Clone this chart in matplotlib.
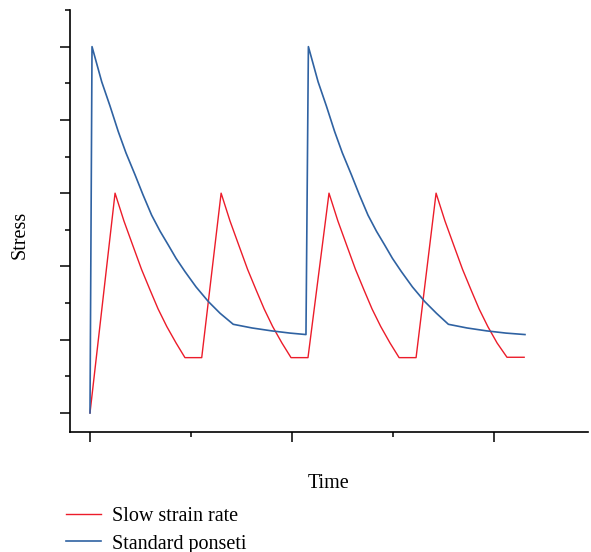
import matplotlib
matplotlib.use("Agg")
import matplotlib.pyplot as plt
from matplotlib.ticker import MultipleLocator, NullFormatter

# ── data (time, stress in arbitrary units) ──
slow_t = [0.000,
          0.124, 0.168, 0.214, 0.255, 0.297, 0.337, 0.380, 0.426, 0.470, 0.553,
          0.649, 0.693, 0.739, 0.780, 0.822, 0.862, 0.904, 0.950, 0.995, 1.079,
          1.183, 1.227, 1.273, 1.314, 1.356, 1.396, 1.439, 1.485, 1.530, 1.614,
          1.713, 1.757, 1.803, 1.844, 1.886, 1.926, 1.969, 2.015, 2.064, 2.149]
slow_s = [0.00,
          3.00, 2.62, 2.27, 1.96, 1.68, 1.42, 1.18, 0.955, 0.755, 0.755,
          3.00, 2.62, 2.27, 1.96, 1.68, 1.42, 1.18, 0.955, 0.755, 0.755,
          3.00, 2.62, 2.27, 1.96, 1.68, 1.42, 1.18, 0.955, 0.755, 0.755,
          3.00, 2.62, 2.27, 1.96, 1.68, 1.42, 1.18, 0.955, 0.760, 0.760]

std_t = [0.000,
         0.010, 0.030, 0.058, 0.099, 0.140, 0.178, 0.223, 0.262, 0.305, 0.347,
         0.388, 0.426, 0.470, 0.525, 0.586, 0.644, 0.709,
         0.802, 0.900, 0.990, 1.069,
         1.081, 1.101, 1.129, 1.170, 1.211, 1.249, 1.294, 1.333, 1.376, 1.418,
         1.459, 1.497, 1.541, 1.596, 1.657, 1.715, 1.774,
         1.866, 1.964, 2.059, 2.153]
std_s = [0.00,
         5.00, 4.80, 4.52, 4.19, 3.84, 3.55, 3.25, 2.98, 2.70, 2.48,
         2.29, 2.11, 1.93, 1.72, 1.52, 1.36, 1.21,
         1.16, 1.12, 1.09, 1.07,
         5.00, 4.80, 4.52, 4.19, 3.84, 3.55, 3.25, 2.98, 2.70, 2.48,
         2.29, 2.11, 1.93, 1.72, 1.52, 1.36, 1.21,
         1.16, 1.12, 1.09, 1.07]

labels = ["Slow strain rate", "Standard ponseti"]
RED  = "#ec1c2a"
BLUE = "#2f62a2"

plt.rcParams["font.family"] = ["Liberation Serif", "DejaVu Serif"]

fig = plt.figure(figsize=(5.91, 5.52), dpi=100)
ax  = fig.add_axes([70 / 591, 120 / 552, 518 / 591, 422 / 552])

ax.plot(slow_t, slow_s, color=RED,  lw=1.0, label=labels[0])
ax.plot(std_t,  std_s,  color=BLUE, lw=1.2, label=labels[1])

ax.set_xlim(-0.099, 2.465)
ax.set_ylim(-0.26, 5.5)

# ── axes styling: left/bottom spines only, no tick labels ──
for side in ("top", "right"):
    ax.spines[side].set_visible(False)
for side in ("left", "bottom"):
    ax.spines[side].set_linewidth(1.2)

ax.xaxis.set_major_locator(MultipleLocator(1))
ax.xaxis.set_minor_locator(MultipleLocator(0.5))
ax.yaxis.set_major_locator(MultipleLocator(1))
ax.yaxis.set_minor_locator(MultipleLocator(0.5))
ax.xaxis.set_major_formatter(NullFormatter())
ax.yaxis.set_major_formatter(NullFormatter())
ax.tick_params(which="major", length=7, width=1.1, direction="out")
ax.tick_params(which="minor", length=3.5, width=1.1, direction="out")

ax.set_xlabel("Time", fontsize=14.5, va="top")
ax.xaxis.set_label_coords(0.5, -0.0995)
ax.set_ylabel("Stress", fontsize=14.5)
ax.yaxis.set_label_coords(-0.078, 0.467)

fig.legend(loc="upper left", bbox_to_anchor=(56 / 591, 1 - 497 / 552),
           frameon=False, fontsize=14.5, handlelength=1.74,
           handletextpad=0.55, labelspacing=0.41, borderpad=0)

fig.savefig("out.png", dpi=100)
